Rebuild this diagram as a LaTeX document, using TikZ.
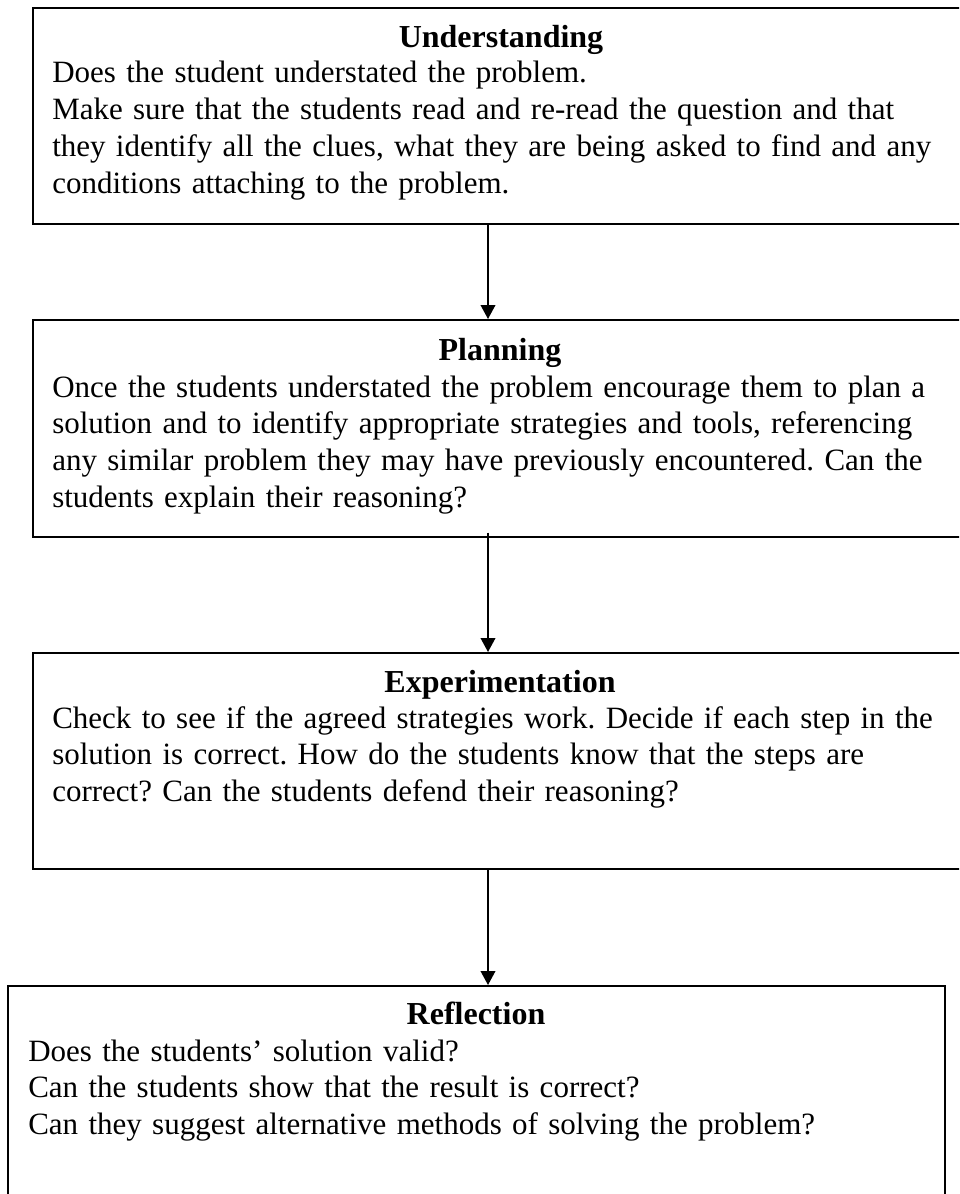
\documentclass[tikz,border=0pt]{standalone}
\usepackage{fontspec}
\setmainfont{Liberation Serif}
\frenchspacing
\usetikzlibrary{arrows.meta}
\tikzset{
  framebox/.style={draw=black, line width=1.2pt, rectangle, inner sep=0pt, anchor=north west},
  headtext/.style={font=\fontsize{24pt}{27.6pt}\selectfont\bfseries, anchor=base, inner sep=0pt},
  bodytext/.style={font=\fontsize{23.25pt}{27.6pt}\selectfont\frenchspacing, anchor=base west, inner sep=0pt, text width=690pt, align=left},
  flowarrow/.style={draw=black, line width=1.3pt, -{Triangle[length=10.5pt,width=11pt]}}
}
\begin{document}
\begin{tikzpicture}[x=0.75pt,y=-0.75pt]
\useasboundingbox (0,0) rectangle (959,1194);
\clip (0,0) rectangle (959,1194);
% boxes
\node[framebox, minimum width=702pt, minimum height=162pt] (u) at (32,7) {};
\node[framebox, minimum width=702pt, minimum height=162.75pt] (p) at (32,319) {};
\node[framebox, minimum width=702pt, minimum height=162pt] (e) at (32,652) {};
\node[framebox, minimum width=702.75pt, minimum height=172pt] (r) at (7,985) {};
% texts
\node[headtext] (uh) at (501,48) {Understanding};
\node[bodytext] (ub) at (52,83) {Does the student understated the problem.\\
Make sure that the students read and re-read the question and that\\
they identify all the clues, what they are being asked to find and any\\
conditions attaching to the problem.};
\node[headtext] (ph) at (500,360) {Planning};
\node[bodytext] (pb) at (52,397) {Once the students understated the problem encourage them to plan a\\
solution and to identify appropriate strategies and tools, referencing\\
any similar problem they may have previously encountered. Can the\\
students explain their reasoning?};
\node[headtext] (eh) at (500,692) {Experimentation};
\node[bodytext] (eb) at (52,728) {Check to see if the agreed strategies work. Decide if each step in the\\
solution is correct. How do the students know that the steps are\\
correct? Can the students defend their reasoning?};
\node[headtext] (rh) at (476,1024) {Reflection};
\node[bodytext] (rb) at (28,1061) {Does the students’ solution valid?\\
Can the students show that the result is correct?\\
Can they suggest alternative methods of solving the problem?};
% connectors
\coordinate (ax) at (488,0);
\draw[flowarrow] (u.south -| ax) -- (p.north -| ax);
\draw[flowarrow] ([yshift=3.75pt]p.south -| ax) -- (e.north -| ax);
\draw[flowarrow] (e.south -| ax) -- (r.north -| ax);
\end{tikzpicture}
\end{document}
